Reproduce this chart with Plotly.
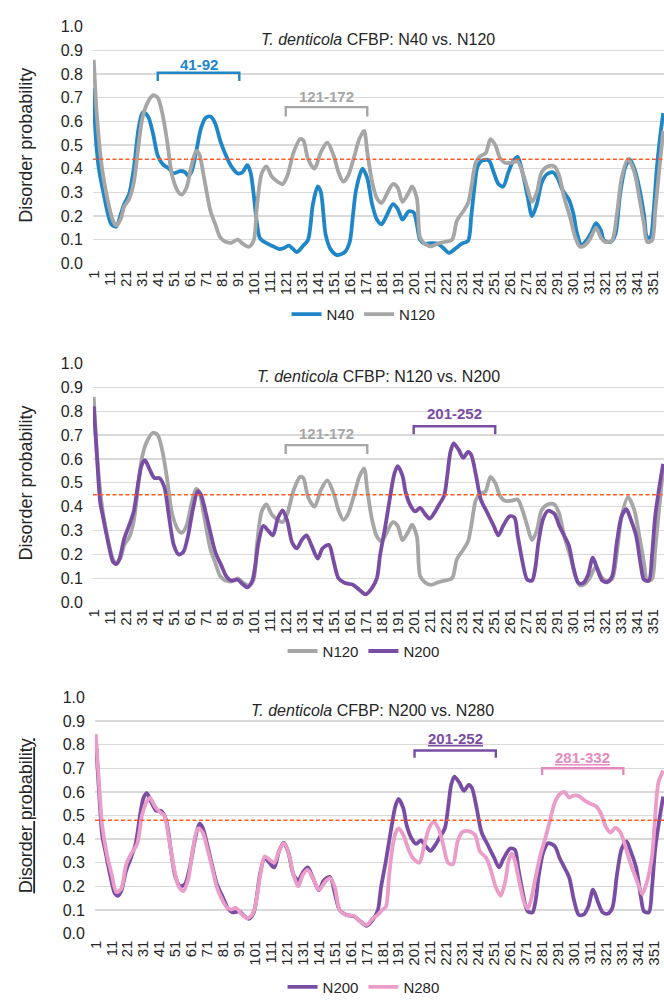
import plotly.graph_objects as go

# ---------------- data ----------------
tick_vals = [1, 11, 21, 31, 41, 51, 61, 71, 81, 91, 101, 111, 121, 131, 141, 151, 161, 171,
             181, 191, 201, 211, 221, 231, 241, 251, 261, 271, 281, 291, 301, 311, 321, 331, 341, 351]
tick_text = ["1", "11", "21", "31", "41", "51", "61", "71", "81", "91", "101", "111", "121", "131",
             "141", "151", "161", "171", "181", "191", "201", "211", "221", "231", "241", "251",
             "261", "271", "281", "291", "301", "311", "321", "331", "341", "351"]

# (residue, disorder probability)
n40_points = [(1, 0.74), (2, 0.56), (4, 0.41), (7, 0.30), (12, 0.165), (15, 0.155), (18, 0.21), (20, 0.25),
              (23, 0.29), (26, 0.40), (29, 0.57), (31, 0.63), (32, 0.64), (35, 0.62), (38, 0.55), (41, 0.455),
              (44, 0.42), (48, 0.40), (51, 0.38), (55, 0.39), (58, 0.385), (60, 0.37), (62, 0.385), (65, 0.47),
              (68, 0.57), (71, 0.615), (74, 0.62), (77, 0.59), (80, 0.52), (84, 0.45), (87, 0.41), (91, 0.38),
              (94, 0.385), (97, 0.415), (99, 0.385), (101, 0.29), (103, 0.17), (105, 0.105), (109, 0.085),
              (113, 0.072), (117, 0.06), (120, 0.065), (123, 0.075), (128, 0.048), (132, 0.075), (135, 0.10),
              (138, 0.25), (141, 0.325), (143, 0.30), (146, 0.12), (149, 0.06), (153, 0.035), (158, 0.048),
              (161, 0.09), (163, 0.20), (165, 0.31), (169, 0.40), (172, 0.36), (175, 0.25), (178, 0.185),
              (181, 0.165), (184, 0.20), (188, 0.25), (191, 0.23), (194, 0.185), (198, 0.22), (201, 0.215),
              (203, 0.165), (205, 0.10), (208, 0.083), (212, 0.085), (216, 0.083), (220, 0.062), (223, 0.044),
              (227, 0.062), (231, 0.083), (235, 0.095), (237, 0.20), (239, 0.32), (241, 0.41), (244, 0.435),
              (248, 0.435), (251, 0.385), (254, 0.335), (257, 0.325), (260, 0.38), (263, 0.43), (266, 0.45),
              (269, 0.385), (272, 0.29), (275, 0.20), (278, 0.25), (281, 0.34), (284, 0.375), (288, 0.385),
              (291, 0.36), (294, 0.31), (298, 0.27), (301, 0.205), (303, 0.13), (306, 0.076), (309, 0.097),
              (312, 0.13), (315, 0.17), (318, 0.14), (320, 0.097), (324, 0.09), (327, 0.12), (330, 0.29),
              (333, 0.40), (336, 0.44), (339, 0.40), (342, 0.32), (345, 0.205), (347, 0.11), (349, 0.11),
              (351, 0.22), (353, 0.40), (355, 0.53), (357, 0.635)]

n120_points = [(1, 0.86), (3, 0.62), (6, 0.41), (9, 0.29), (13, 0.18), (15, 0.16), (18, 0.19), (20, 0.24),
               (23, 0.27), (26, 0.34), (29, 0.50), (31, 0.60), (34, 0.67), (38, 0.71), (41, 0.70), (44, 0.63),
               (47, 0.51), (50, 0.37), (54, 0.30), (56, 0.29), (59, 0.32), (62, 0.41), (65, 0.475), (67, 0.46),
               (70, 0.36), (74, 0.22), (77, 0.165), (80, 0.11), (83, 0.092), (87, 0.087), (91, 0.10), (94, 0.083),
               (98, 0.07), (101, 0.097), (103, 0.24), (106, 0.38), (109, 0.41), (112, 0.37), (115, 0.35),
               (119, 0.335), (122, 0.37), (126, 0.47), (130, 0.525), (132, 0.52), (135, 0.44), (139, 0.40),
               (143, 0.47), (147, 0.51), (151, 0.455), (154, 0.385), (157, 0.345), (160, 0.37), (164, 0.455),
               (167, 0.525), (170, 0.56), (172, 0.47), (175, 0.345), (178, 0.275), (181, 0.255), (184, 0.29),
               (188, 0.335), (191, 0.32), (194, 0.26), (198, 0.30), (200, 0.325), (203, 0.275), (205, 0.11),
               (208, 0.083), (212, 0.072), (216, 0.083), (220, 0.09), (225, 0.10), (228, 0.18), (232, 0.22),
               (235, 0.255), (237, 0.32), (240, 0.43), (243, 0.455), (246, 0.465), (249, 0.525), (252, 0.50),
               (255, 0.445), (258, 0.425), (262, 0.425), (266, 0.43), (269, 0.385), (272, 0.32), (275, 0.26),
               (278, 0.30), (281, 0.385), (285, 0.41), (289, 0.41), (292, 0.37), (295, 0.28), (299, 0.19),
               (302, 0.11), (305, 0.07), (308, 0.076), (311, 0.10), (315, 0.15), (318, 0.11), (321, 0.09),
               (325, 0.097), (328, 0.205), (331, 0.36), (335, 0.44), (339, 0.385), (342, 0.28), (345, 0.165),
               (347, 0.09), (350, 0.097), (352, 0.22), (354, 0.36), (357, 0.56)]

n200_points = [(1, 0.82), (3, 0.61), (5, 0.42), (7, 0.35), (10, 0.25), (13, 0.17), (15, 0.16), (17, 0.18),
               (20, 0.265), (23, 0.32), (26, 0.38), (29, 0.51), (31, 0.575), (33, 0.595), (36, 0.555),
               (39, 0.52), (42, 0.52), (45, 0.485), (48, 0.36), (51, 0.24), (54, 0.20), (57, 0.21), (60, 0.28),
               (63, 0.39), (66, 0.465), (68, 0.45), (71, 0.375), (74, 0.29), (77, 0.21), (81, 0.15), (84, 0.107),
               (87, 0.09), (91, 0.094), (94, 0.076), (97, 0.062), (100, 0.087), (102, 0.155), (104, 0.25),
               (107, 0.32), (110, 0.30), (113, 0.28), (116, 0.35), (119, 0.385), (122, 0.34), (125, 0.25),
               (128, 0.225), (131, 0.26), (134, 0.28), (137, 0.24), (141, 0.183), (144, 0.225), (148, 0.24),
               (151, 0.17), (154, 0.10), (158, 0.08), (163, 0.073), (167, 0.052), (171, 0.033), (175, 0.06),
               (178, 0.10), (180, 0.197), (183, 0.307), (186, 0.43), (189, 0.54), (191, 0.57), (194, 0.53),
               (196, 0.46), (199, 0.405), (202, 0.38), (205, 0.395), (208, 0.37), (211, 0.35), (214, 0.375),
               (217, 0.41), (220, 0.445), (222, 0.53), (224, 0.63), (226, 0.665), (229, 0.64), (232, 0.605),
               (235, 0.63), (237, 0.617), (240, 0.53), (243, 0.43), (247, 0.375), (251, 0.32), (254, 0.28),
               (257, 0.32), (261, 0.36), (264, 0.355), (266, 0.28), (269, 0.17), (272, 0.094), (275, 0.09),
               (277, 0.142), (279, 0.25), (282, 0.35), (285, 0.383), (289, 0.37), (292, 0.32), (295, 0.28),
               (298, 0.238), (301, 0.142), (304, 0.08), (307, 0.08), (310, 0.114), (313, 0.186), (316, 0.135),
               (319, 0.09), (322, 0.084), (325, 0.107), (328, 0.25), (331, 0.36), (334, 0.39), (336, 0.36),
               (340, 0.28), (343, 0.155), (345, 0.094), (348, 0.09), (350, 0.197), (352, 0.36), (355, 0.50),
               (357, 0.58)]

n280_points = [(1, 0.845), (4, 0.54), (5, 0.46), (8, 0.335), (11, 0.25), (14, 0.175), (17, 0.19), (20, 0.29),
               (23, 0.335), (27, 0.38), (30, 0.50), (33, 0.56), (35, 0.575), (38, 0.54), (41, 0.516), (44, 0.50),
               (47, 0.40), (50, 0.28), (53, 0.20), (56, 0.18), (59, 0.23), (62, 0.36), (65, 0.445), (68, 0.43),
               (71, 0.36), (74, 0.28), (77, 0.196), (80, 0.148), (83, 0.113), (86, 0.102), (89, 0.109),
               (92, 0.086), (96, 0.065), (99, 0.079), (101, 0.113), (104, 0.24), (107, 0.327), (110, 0.313),
               (113, 0.30), (116, 0.35), (119, 0.383), (122, 0.34), (125, 0.25), (128, 0.20), (131, 0.25),
               (134, 0.27), (138, 0.224), (141, 0.185), (145, 0.22), (148, 0.235), (151, 0.196), (154, 0.10),
               (158, 0.079), (163, 0.075), (167, 0.051), (171, 0.037), (175, 0.065), (178, 0.08), (181, 0.102),
               (183, 0.113), (185, 0.24), (187, 0.36), (189, 0.424), (191, 0.445), (194, 0.417), (197, 0.36),
               (200, 0.32), (204, 0.30), (207, 0.37), (210, 0.445), (213, 0.472), (216, 0.445), (219, 0.375),
               (222, 0.30), (225, 0.293), (228, 0.39), (231, 0.43), (235, 0.434), (239, 0.417), (242, 0.348),
               (246, 0.32), (249, 0.265), (252, 0.196), (255, 0.16), (258, 0.224), (260, 0.307), (262, 0.34),
               (264, 0.307), (267, 0.21), (270, 0.127), (272, 0.106), (274, 0.141), (277, 0.24), (280, 0.334),
               (283, 0.403), (286, 0.48), (289, 0.555), (292, 0.59), (295, 0.60), (298, 0.576), (301, 0.585),
               (304, 0.583), (308, 0.562), (312, 0.548), (315, 0.538), (318, 0.507), (321, 0.452), (324, 0.428),
               (327, 0.448), (330, 0.43), (333, 0.376), (336, 0.307), (339, 0.25), (342, 0.196), (344, 0.168),
               (347, 0.224), (350, 0.33), (352, 0.50), (354, 0.64), (357, 0.69)]

thresholds = [0.44, 0.45, 0.48]

panel_titles = ["<i>T. denticola</i> CFBP: N40 vs. N120",
                "<i>T. denticola</i> CFBP: N120 vs. N200",
                "<i>T. denticola</i> CFBP: N200 vs. N280"]

# brackets: (panel index, start residue, end residue, label)
brackets = [(0, 41, 92, "41-92"), (0, 121, 172, "121-172"),
            (1, 121, 172, "121-172"), (1, 201, 252, "201-252"),
            (2, 201, 252, "201-252"), (2, 281, 332, "281-332")]

# ---------------- styling ----------------
BLUE = "#1F86C8"
GRAY = "#A6A6A6"
PURPLE = "#7A4DA4"
PINK = "#E99DC8"
RED = "#FF5A26"
TXT = "#262626"
FONT = "Liberation Sans, Arial, sans-serif"
W, H = 664, 1004

series_color = {"N40": BLUE, "N120": GRAY, "N200": PURPLE, "N280": PINK}
panels = [
    [("N40", n40_points), ("N120", n120_points)],
    [("N120", n120_points), ("N200", n200_points)],
    [("N200", n200_points), ("N280", n280_points)],
]

# pixel geometry of each panel: (left, top of 1.0, bottom of 0.0)
geom = [(86, 19, 260), (86, 362, 605), (88, 702, 942.5)]
legend_y_px = [312, 655, 997]
title_x = [0.5, 0.5, 0.487]
bracket_style = {  # (panel, label) -> (label y, bar y, tick-end y, color, underline)
    (0, "41-92"): (0.84, 0.805, 0.77, BLUE, False),
    (0, "121-172"): (0.705, 0.66, 0.62, GRAY, False),
    (1, "121-172"): (0.706, 0.658, 0.621, GRAY, False),
    (1, "201-252"): (0.791, 0.737, 0.704, PURPLE, False),
    (2, "201-252"): (0.828, 0.775, 0.745, PURPLE, True),
    (2, "281-332"): (0.745, 0.70, 0.671, "#E48BBE", True),
}

fig = go.Figure()
shapes = []
annotations = []
layout = {}

for i, series in enumerate(panels):
    sfx = "" if i == 0 else str(i + 1)
    xa, ya = "x" + sfx, "y" + sfx
    lg = "legend" + sfx
    for name, pts in series:
        fig.add_trace(go.Scatter(
            x=[p[0] for p in pts], y=[p[1] for p in pts], name=name, mode="lines",
            line=dict(color=series_color[name], width=3.8, shape="spline", smoothing=0.8),
            xaxis=xa, yaxis=ya, legend=lg, hoverinfo="skip"))

    left, top, bot = geom[i]
    layout["xaxis" + sfx] = dict(
        domain=[left / W, 1.0], range=[0.5, 357.5], anchor=ya,
        tickmode="array", tickvals=tick_vals, ticktext=tick_text, tickangle=-90,
        tickfont=dict(family=FONT, size=15, color=TXT), showgrid=False, zeroline=False,
        showline=False, ticks="", ticklabelstandoff=3, fixedrange=True)
    layout["yaxis" + sfx] = dict(
        domain=[1 - bot / H, 1 - top / H], range=[0, 1.0], anchor=xa,
        tickmode="array", tickvals=[0, 0.1, 0.2, 0.3, 0.4, 0.5, 0.6, 0.7, 0.8, 0.9, 1.0],
        ticktext=["0.0", "0.1", "0.2", "0.3", "0.4", "0.5", "0.6", "0.7", "0.8", "0.9", "1.0"],
        tickfont=dict(family=FONT, size=16, color=TXT), showgrid=True, gridcolor="#D9D9D9",
        gridwidth=1.3, zeroline=False, showline=False, ticks="", ticklabelstandoff=9,
        fixedrange=True)
    layout[lg] = dict(
        orientation="h", x=0.542, xanchor="center", y=1 - legend_y_px[i] / H, yanchor="middle",
        font=dict(family=FONT, size=15, color=TXT), bgcolor="rgba(0,0,0,0)", itemwidth=30,
        traceorder="normal")

    # threshold dashed line
    shapes.append(dict(type="line", xref=xa + " domain", yref=ya, x0=0, x1=1,
                       y0=thresholds[i], y1=thresholds[i],
                       line=dict(color=RED, width=1.6, dash="4px,2.5px"), layer="above"))

    # panel title
    annotations.append(dict(text=panel_titles[i], xref=xa + " domain", yref=ya,
                            x=title_x[i], y=0.945, xanchor="center", yanchor="middle",
                            showarrow=False, font=dict(family=FONT, size=16, color=TXT)))

    # y axis title
    ytxt = "Disorder probability"
    if i == 2:
        ytxt = "<u>" + ytxt + "</u>"
    annotations.append(dict(text=ytxt, xref="paper", yref="paper", x=18 / W,
                            y=1 - (top + bot) / 2 / H, xanchor="center", yanchor="middle",
                            textangle=-90, showarrow=False,
                            font=dict(family=FONT, size=18, color=TXT)))

for (pi, a, b, label) in brackets:
    sfx = "" if pi == 0 else str(pi + 1)
    xa, ya = "x" + sfx, "y" + sfx
    ly, by, ty, col, ul = bracket_style[(pi, label)]
    shapes.append(dict(type="path", xref=xa, yref=ya,
                       path=f"M {a},{ty} L {a},{by} L {b},{by} L {b},{ty}",
                       line=dict(color=col, width=2.4)))
    txt = f"<b>{label}</b>"
    if ul:
        txt = f"<u>{txt}</u>"
    annotations.append(dict(text=txt, xref=xa, yref=ya, x=(a + b) / 2, y=ly,
                            xanchor="center", yanchor="middle", showarrow=False,
                            font=dict(family=FONT, size=15, color=col)))

fig.update_layout(
    width=W, height=H, margin=dict(l=0, r=0, t=0, b=0),
    paper_bgcolor="white", plot_bgcolor="white",
    shapes=shapes, annotations=annotations, showlegend=True,
    font=dict(family=FONT, color=TXT), **layout)

fig.write_html(
    "out.html",
    config={"displayModeBar": False, "staticPlot": True},
    post_script="document.body.style.margin='0px';document.body.style.padding='0px';"
                "document.body.style.overflow='hidden';")
